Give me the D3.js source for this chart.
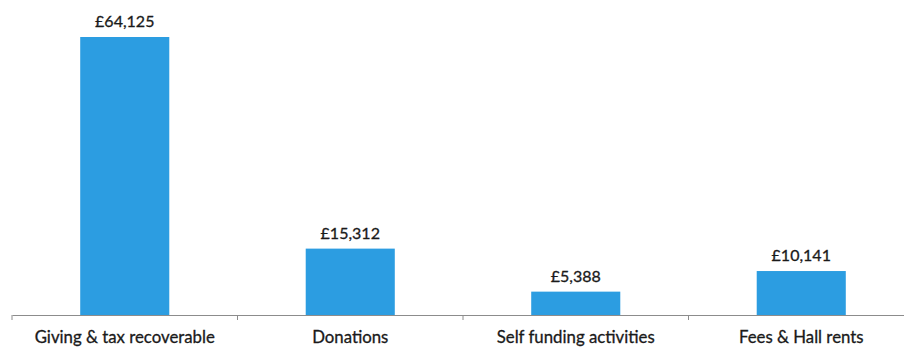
<!DOCTYPE html>
<html><head><meta charset="utf-8">
<script src="https://cdn.jsdelivr.net/npm/d3@7"></script>
<style>body{margin:0;background:#fff}svg{display:block}</style>
</head><body>
<svg id="c" width="904" height="347"></svg>
<script>
const categories = ["Giving & tax recoverable","Donations","Self funding activities","Fees & Hall rents"];
const values = [64125, 15312, 5388, 10141];
const valueLabels = ["£64,125","£15,312","£5,388","£10,141"];

const svg = d3.select("#c");
const baseY = 315;
const x = d3.scaleBand().domain(categories).range([12, 914]).paddingInner(0.605).paddingOuter(0.3025);
const y = d3.scaleLinear().domain([0, 70000]).range([baseY, baseY - 278*70000/64125]);

svg.selectAll("rect.bar").data(values).join("rect")
  .attr("class","bar")
  .attr("x",(d,i)=>x(categories[i]))
  .attr("width",x.bandwidth())
  .attr("y",d=>y(d))
  .attr("height",d=>baseY-y(d))
  .attr("fill","#2c9de1");

const xb = d3.scaleBand().domain(categories).range([12,914]);
const axis = d3.axisBottom(xb).tickSize(0).tickFormat("");
const g = svg.append("g").attr("transform",`translate(0,${baseY})`).call(axis);
g.select(".domain").attr("stroke","#8c8c8c").attr("stroke-width",1);
const bounds = categories.map(c=>xb(c)).concat([914]);
g.selectAll("line.tk").data(bounds).join("line").attr("class","tk")
  .attr("x1",d=>d).attr("x2",d=>d).attr("y1",0).attr("y2",5)
  .attr("stroke","#8c8c8c");

svg.selectAll("text.cat").data(categories).join("text")
  .attr("class","cat")
  .attr("x",d=>xb(d)+xb.bandwidth()/2)
  .attr("y",343)
  .attr("text-anchor","middle")
  .attr("font-family","Lato, sans-serif")
  .attr("font-size",16.8)
  .attr("fill","#1a1a1a")
  .attr("stroke","#1a1a1a").attr("stroke-width",0.3)
  .text(d=>d);

svg.selectAll("text.val").data(values).join("text")
  .attr("class","val")
  .attr("x",(d,i)=>xb(categories[i])+xb.bandwidth()/2)
  .attr("y",d=>y(d)-10)
  .attr("text-anchor","middle")
  .attr("font-family","Lato, sans-serif")
  .attr("font-size",16)
  .attr("fill","#1a1a1a")
  .attr("stroke","#1a1a1a").attr("stroke-width",0.3)
  .text((d,i)=>valueLabels[i]);
</script>
</body></html>
